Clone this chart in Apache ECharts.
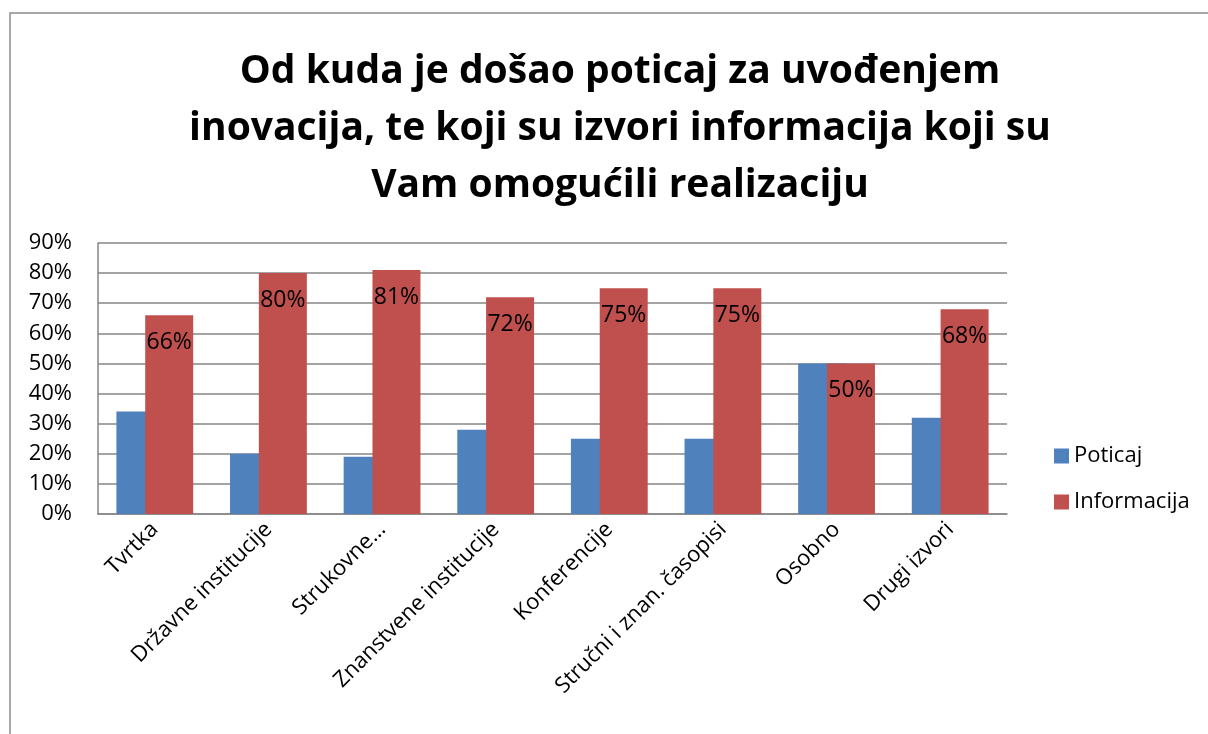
<!DOCTYPE html>
<html><head><meta charset="utf-8">
<script src="https://cdn.jsdelivr.net/npm/echarts@6/dist/echarts.min.js"></script>
<style>html,body{margin:0;padding:0;background:#fff}#c{width:1208px;height:734px}</style>
</head><body><div id="c"></div>
<script>
const categories = ['Tvrtka','Državne institucije','Strukovne…','Znanstvene institucije','Konferencije','Stručni i znan. časopisi','Osobno','Drugi izvori'];
const poticaj = [34, 20, 19, 28, 25, 25, 50, 32];
const informacija = [66, 80, 81, 72, 75, 75, 50, 68];
const seriesNames = ['Poticaj', 'Informacija'];
const titleText = 'Od kuda je došao poticaj za uvođenjem\ninovacija, te koji su izvori informacija koji su\nVam omogućili realizaciju';

const FONT = 'Open Sans';
const chart = echarts.init(document.getElementById('c'));
chart.setOption({
  animation: false,
  backgroundColor: '#fff',
  graphic: [{
    type: 'polyline', silent: true,
    shape: { points: [[10, 740], [10, 13], [1215, 13]] },
    style: { stroke: '#8c8c8c', lineWidth: 1.5, fill: null }
  }],
  title: {
    text: titleText, left: 615, top: 38, textAlign: 'center',
    textStyle: { fontFamily: FONT, fontWeight: 'bold', fontSize: 39, lineHeight: 57, color: '#000' }
  },
  legend: {
    orient: 'vertical', left: 1049, top: 440, itemWidth: 15, itemHeight: 15, itemGap: 24,
    icon: 'rect',
    textStyle: { fontFamily: FONT, fontSize: 22, color: '#000' },
    data: seriesNames
  },
  grid: { left: 98, right: 201, top: 243, bottom: 220, containLabel: false },
  xAxis: {
    type: 'category', data: categories,
    axisLine: { lineStyle: { color: '#868686', width: 1.5 } },
    axisTick: { show: false },
    axisLabel: { rotate: 45, interval: 0, fontFamily: FONT, fontSize: 22, color: '#000', margin: 12 }
  },
  yAxis: {
    type: 'value', min: 0, max: 90, interval: 10,
    axisLine: { show: true, lineStyle: { color: '#868686', width: 1.5 } },
    axisTick: { show: false },
    splitLine: { lineStyle: { color: '#868686', width: 1.5 } },
    axisLabel: { formatter: '{value}%', fontFamily: FONT, fontSize: 22, color: '#000', margin: 26 }
  },
  series: [
    { name: seriesNames[0], type: 'bar', data: poticaj, barWidth: 48, barGap: '-40%',
      itemStyle: { color: '#4F81BD' } },
    { name: seriesNames[1], type: 'bar', data: informacija, barWidth: 48, barGap: '-40%',
      itemStyle: { color: '#C0504D' },
      label: { show: true, position: 'insideTop', distance: 16, formatter: '{c}%',
        fontFamily: FONT, fontSize: 23, color: '#000' } }
  ]
});
</script></body></html>
